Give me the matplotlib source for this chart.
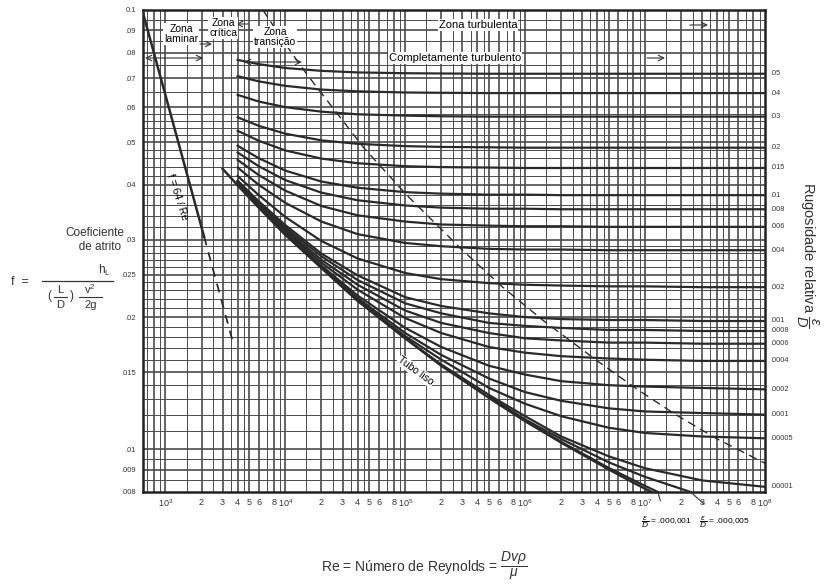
import numpy as np
import matplotlib
matplotlib.use('Agg')
import matplotlib.pyplot as plt
from matplotlib.lines import Line2D
from matplotlib.transforms import blended_transform_factory

plt.rcParams['font.family'] = ['Liberation Sans', 'DejaVu Sans']
plt.rcParams['mathtext.fontset'] = 'custom'
plt.rcParams['mathtext.rm'] = 'Liberation Sans'
plt.rcParams['mathtext.it'] = 'Liberation Sans:italic'

# Reynolds values where the curves were read
re_pts = [4e3, 6e3, 1e4, 2e4, 4e4, 1e5, 2e5, 5e5, 1e6, 2e6, 5e6, 1e7, 3e7, 1e8]

# relative roughness labels (right side) and friction factor read on each curve
rough_labels = ['.05', '.04', '.03', '.02', '.015', '.01', '.008', '.006', '.004',
                '.002', '.001', '.0008', '.0006', '.0004', '.0002', '.0001',
                '.00005', '.00001']
f_005 = [.0770, .0753, .0738, .0727, .0721, .0718, .0717, .0716, .0716, .0716, .0716, .0716, .0716, .0716]
f_004 = [.0707, .0688, .0672, .0659, .0653, .0649, .0648, .0647, .0647, .0647, .0647, .0647, .0647, .0647]
f_003 = [.0641, .0619, .0601, .0587, .0579, .0575, .0573, .0572, .0572, .0572, .0572, .0572, .0572, .0572]
f_002 = [.0570, .0545, .0523, .0505, .0496, .0490, .0488, .0487, .0486, .0486, .0486, .0486, .0486, .0486]
f_0015 = [.0531, .0504, .0479, .0459, .0448, .0441, .0439, .0438, .0437, .0437, .0437, .0437, .0437, .0437]
f_001 = [.0491, .0460, .0431, .0407, .0394, .0385, .0382, .0380, .0380, .0379, .0379, .0379, .0379, .0379]
f_0008 = [.0474, .0441, .0410, .0384, .0369, .0359, .0355, .0353, .0353, .0352, .0352, .0352, .0352, .0352]
f_0006 = [.0456, .0421, .0388, .0358, .0341, .0330, .0325, .0323, .0322, .0322, .0321, .0321, .0321, .0321]
f_0004 = [.0438, .0400, .0364, .0330, .0309, .0295, .0290, .0286, .0285, .0285, .0284, .0284, .0284, .0284]
f_0002 = [.0419, .0379, .0338, .0298, .0272, .0252, .0244, .0239, .0237, .0236, .0235, .0235, .0234, .0234]
f_0001 = [.0409, .0367, .0324, .0279, .0249, .0222, .0212, .0204, .0200, .0198, .0197, .0197, .0196, .0196]
f_00008 = [.0408, .0365, .0320, .0275, .0243, .0215, .0204, .0194, .0191, .0189, .0187, .0187, .0186, .0186]
f_00006 = [.0406, .0363, .0317, .0270, .0237, .0207, .0194, .0184, .0179, .0177, .0175, .0175, .0174, .0174]
f_00004 = [.0404, .0360, .0314, .0266, .0231, .0199, .0184, .0171, .0166, .0163, .0161, .0160, .0159, .0159]
f_00002 = [.0402, .0358, .0311, .0262, .0224, .0189, .0171, .0155, .0148, .0143, .0140, .0139, .0138, .0137]
f_00001 = [.0401, .0357, .0310, .0260, .0221, .0184, .0164, .0145, .0135, .0129, .0124, .0122, .0121, .0120]
f_000005 = [.0400, .0356, .0309, .0259, .0219, .0181, .0160, .0138, .0127, .0119, .0112, .0109, .0107, .0106]
f_000001 = [.0400, .0356, .0308, .0259, .0218, .0179, .0156, .0133, .0119, .0107, .00964, .00906, .00850, .00822]
rough_curves = [f_005, f_004, f_003, f_002, f_0015, f_001, f_0008, f_0006, f_0004,
                f_0002, f_0001, f_00008, f_00006, f_00004, f_00002, f_00001,
                f_000005, f_000001]

# curves that reach the bottom edge
re_e5 = [5e5, 1e6, 2e6, 5e6, 1e7, 2.4e7]
f_e5 = [.0132, .0117, .01056, .00934, .00866, .0080]
re_e1 = [5e5, 1e6, 2e6, 5e6, 1e7, 1.28e7]
f_e1 = [.0131, .0116, .01040, .00907, .00826, .0080]
re_smooth = [3e3, 4e3, 6e3, 1e4, 2e4, 4e4, 1e5, 2e5, 5e5, 1e6, 2e6, 5e6, 8e6, 1.13e7]
f_smooth = [.0435, .0399, .0355, .0308, .0259, .0218, .0179, .0155, .0131, .0116, .01036, .00900, .0084, .0080]

# laminar line f = 64/Re
re_lam = [640, 2100]
f_lam = [.100, .0305]
re_lam_dash = [2100, 3600]
f_lam_dash = [.0305, .0178]

# boundary of complete turbulence (dashed)
re_bound = [6.5e3, 9.85e3, 1.5e4, 4.5e4, 1.03e5, 3.0e5, 6.5e5, 1.43e6, 4.0e6, 8.6e6, 1.8e7, 3.9e7, 1e8]
f_bound = [.100, .0842, .0716, .0486, .0379, .0284, .0234, .0196, .0159, .0137, .0120, .0106, .0093]

# axis ticks
x_ticks = [1e3, 2e3, 3e3, 4e3, 5e3, 6e3, 8e3,
           1e4, 2e4, 3e4, 4e4, 5e4, 6e4, 8e4,
           1e5, 2e5, 3e5, 4e5, 5e5, 6e5, 8e5,
           1e6, 2e6, 3e6, 4e6, 5e6, 6e6, 8e6,
           1e7, 2e7, 3e7, 4e7, 5e7, 6e7, 8e7, 1e8]
x_labels = ['$10^3$', '2', '3', '4', '5', '6', '8',
            '$10^4$', '2', '3', '4', '5', '6', '8',
            '$10^5$', '2', '3', '4', '5', '6', '8',
            '$10^6$', '2', '3', '4', '5', '6', '8',
            '$10^7$', '2', '3', '4', '5', '6', '8', '$10^8$']
y_ticks = [.008, .009, .01, .015, .02, .025, .03, .04, .05, .06, .07, .08, .09, .1]
y_labels = ['.008', '.009', '.01', '.015', '.02', '.025', '.03', '.04', '.05',
            '.06', '.07', '.08', '.09', '0.1']

W, H = 825, 588
fig = plt.figure(figsize=(W / 100, H / 100), dpi=100)
ax = fig.add_axes([143 / W, 1 - 492 / H, 622 / W, 482 / H])
ax.set_xscale('log')
ax.set_yscale('log')
ax.set_xlim(650, 1e8)
ax.set_ylim(0.008, 0.1)

# dense chart grid
gcol = '#4a4a4a'
for dec in [1e2, 1e3, 1e4, 1e5, 1e6, 1e7]:
    for m in [1, 1.5, 2, 2.5, 3, 3.5, 4, 4.5, 5, 6, 7, 8, 9]:
        x = dec * m
        if 650 < x < 1e8:
            lw = 1.2 if m in (1, 2, 3, 4, 5, 6, 8) else 0.7
            ax.axvline(x, color=gcol, lw=lw, zorder=1)
hlines = list(np.arange(0.0085, 0.01, 0.0005)) + list(np.arange(0.01, 0.03, 0.001)) + \
    list(np.arange(0.03, 0.06, 0.002)) + list(np.arange(0.06, 0.1, 0.005))
for y in hlines:
    major = any(abs(y - t) < 1e-6 for t in y_ticks)
    ax.axhline(y, color=gcol, lw=1.2 if major else 0.7, zorder=1)

ccol = '#2a2a2a'
for f in rough_curves:
    ax.plot(re_pts, f, color=ccol, lw=1.6, zorder=3)
ax.plot(re_e5, f_e5, color=ccol, lw=1.6, zorder=3)
ax.plot(re_e1, f_e1, color=ccol, lw=1.6, zorder=3)
ax.plot(re_smooth, f_smooth, color=ccol, lw=1.8, zorder=3)
ax.plot(re_lam, f_lam, color=ccol, lw=1.8, zorder=3)
ax.plot(re_lam_dash, f_lam_dash, color=ccol, lw=1.3, ls=(0, (5, 4)), zorder=3)
ax.plot(re_bound, f_bound, color=ccol, lw=1.0, ls=(0, (6, 4)), zorder=3)

for s in ax.spines.values():
    s.set_linewidth(1.8)
    s.set_color('#222222')

ax.set_xticks(x_ticks, x_labels)
ax.set_yticks(y_ticks, y_labels)
ax.xaxis.set_minor_locator(matplotlib.ticker.NullLocator())
ax.yaxis.set_minor_locator(matplotlib.ticker.NullLocator())
ax.tick_params(length=0, labelsize=6.5, pad=4, colors='#333333')
ax.tick_params(axis='y', labelsize=5.5, pad=5)

# right-hand roughness labels
tr = blended_transform_factory(ax.transAxes, ax.transData)
for lab, f in zip(rough_labels, rough_curves):
    ax.text(1.008, f[-1], lab, transform=tr, fontsize=5.3, va='center', ha='left', color='#333333')

# zone labels
box = dict(facecolor='white', edgecolor='none', pad=0.6)
def px(x, y):
    return x / W, 1 - y / H

fig.text(*px(181, 34), 'Zona\nlaminar', fontsize=7.5, ha='center', va='center', linespacing=1.0, bbox=box, zorder=5)
fig.text(*px(223, 28), 'Zona\ncrítica', fontsize=7.5, ha='center', va='center', linespacing=1.0, bbox=box, zorder=5)
fig.text(*px(275, 37), 'Zona\ntransição', fontsize=7.5, ha='center', va='center', linespacing=1.0, bbox=box, zorder=5)
fig.text(*px(478, 25), 'Zona turbulenta', fontsize=8, ha='center', va='center', bbox=box, zorder=5)
fig.text(*px(455, 58), 'Completamente turbulento', fontsize=8, ha='center', va='center', bbox=box, zorder=5)

arr = dict(arrowstyle='<->', color='#333333', lw=0.8, shrinkA=0, shrinkB=0)
ax.annotate('', xy=px(145, 58), xytext=px(203, 58), xycoords='figure fraction', arrowprops=arr)
ax.annotate('', xy=px(244, 62), xytext=px(302, 62), xycoords='figure fraction', arrowprops=arr)
one = dict(arrowstyle='->', color='#333333', lw=0.8, shrinkA=0, shrinkB=0)
ax.annotate('', xy=px(212, 44), xytext=px(200, 44), xycoords='figure fraction', arrowprops=one)
ax.annotate('', xy=px(236, 24), xytext=px(248, 24), xycoords='figure fraction', arrowprops=one)
ax.annotate('', xy=px(708, 25), xytext=px(690, 25), xycoords='figure fraction', arrowprops=one)
ax.annotate('', xy=px(665, 58), xytext=px(647, 58), xycoords='figure fraction', arrowprops=one)

fig.text(*px(177, 197), 'f = 64 / Re', fontsize=7.5, rotation=-72, ha='center', va='center', zorder=5)
fig.text(*px(416, 371), 'Tubo liso', fontsize=7.5, rotation=-36, ha='center', va='center', bbox=box, zorder=5)

# bottom-right epsilon/D notes
ax.annotate(r'$\dfrac{\varepsilon}{D}$ = .000,001', xy=(1.28e7, 0.008), xycoords='data',
            xytext=px(666, 522), textcoords='figure fraction', fontsize=6, ha='center', va='center',
            annotation_clip=False,
            arrowprops=dict(arrowstyle='-', color='#333333', lw=0.8, shrinkA=8, shrinkB=0))
ax.annotate(r'$\dfrac{\varepsilon}{D}$ = .000,005', xy=(2.4e7, 0.008), xycoords='data',
            xytext=px(724, 522), textcoords='figure fraction', fontsize=6, ha='center', va='center',
            annotation_clip=False,
            arrowprops=dict(arrowstyle='-', color='#333333', lw=0.8, shrinkA=8, shrinkB=0))

# outer labels
tcol = '#333333'
fig.text(*px(95, 240), 'Coeficiente\n   de atrito', fontsize=8.5, ha='center', va='center', color=tcol)

# friction factor definition built from pieces
fig.text(*px(20, 282), 'f  =', fontsize=9, ha='center', va='center', color=tcol)
fig.add_artist(Line2D([42 / W, 113 / W], [1 - 281 / H] * 2, color=tcol, lw=0.9))
fig.text(*px(104, 270), r'$\mathregular{h_L}$', fontsize=8.5, ha='center', va='center', color=tcol)
fig.text(*px(49, 296), '(', fontsize=8.5, ha='center', va='center', color=tcol)
fig.text(*px(60, 290), 'L', fontsize=8, ha='center', va='center', color=tcol)
fig.add_artist(Line2D([54 / W, 67 / W], [1 - 297 / H] * 2, color=tcol, lw=0.8))
fig.text(*px(60, 305), 'D', fontsize=8, ha='center', va='center', color=tcol)
fig.text(*px(72, 296), ')', fontsize=8.5, ha='center', va='center', color=tcol)
fig.text(*px(90, 289), r'$\mathregular{v^2}$', fontsize=8, ha='center', va='center', color=tcol)
fig.add_artist(Line2D([79 / W, 102 / W], [1 - 297 / H] * 2, color=tcol, lw=0.8))
fig.text(*px(91, 305), '2g', fontsize=8, ha='center', va='center', color=tcol)

fig.text(*px(807, 255), r'Rugosidade relativa $\dfrac{\varepsilon}{D}$', fontsize=10.5, rotation=270,
         ha='center', va='center', color=tcol)
fig.text(*px(424, 566), r'Re = Número de Reynolds = $\dfrac{Dv\rho}{\mu}$', fontsize=10,
         ha='center', va='center', color=tcol)

fig.savefig('out.png', dpi=100)
